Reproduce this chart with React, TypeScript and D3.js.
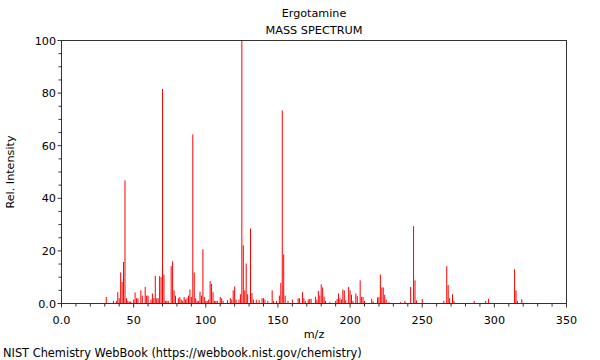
import React from "react";
import * as d3 from "d3";

const title = "Ergotamine";
const subtitle = "MASS SPECTRUM";
const xLabel = "m/z";
const yLabel = "Rel. Intensity";
const footer = "NIST Chemistry WebBook (https://webbook.nist.gov/chemistry)";

const mz = [
  31, 36, 38, 39, 40, 41, 42, 43, 44, 45, 46, 47, 48, 50, 51, 52, 53, 55, 56, 58,
  59, 60, 62, 63, 64, 65, 66, 67, 68, 69, 70, 71, 72, 73, 74, 76, 77, 78, 79, 81,
  82, 83, 84, 85, 86, 87, 88, 89, 90, 91, 92, 93, 94, 95, 96, 97, 98, 99, 100, 101,
  102, 103, 104, 105, 106, 107, 108, 110, 111, 112, 115, 117, 118, 119, 120, 121, 123, 124, 125, 126,
  127, 128, 129, 131, 132, 133, 135, 137, 139, 140, 141, 143, 146, 147, 149, 151, 152, 153, 154, 155,
  157, 160, 164, 165, 167, 168, 169, 171, 172, 173, 176, 177, 178, 179, 180, 181, 182, 183, 186, 190,
  191, 192, 193, 194, 195, 196, 197, 199, 200, 201, 202, 204, 205, 207, 208, 209, 210, 215, 216, 219,
  220, 221, 222, 223, 224, 225, 227, 235, 238, 242, 244, 245, 246, 250, 265, 267, 268, 269, 271, 272,
  286, 294, 296, 314, 315, 316, 319,
];

const intensity = [
  2.5, 1, 1, 4.3, 2, 11.8, 8.2, 15.8, 46.8, 2, 1, 0.7, 0.8, 1.5, 4.2, 2, 2, 5, 3, 6.3,
  3, 3, 1.5, 3.8, 2, 10.5, 2, 2, 10.4, 10, 81.6, 11, 1, 1, 1, 14.2, 16, 5, 3, 2,
  2.5, 1.5, 1, 2.5, 1.5, 2, 3, 5.3, 2.5, 64.3, 11.8, 2, 1, 1, 4.5, 3, 20.6, 2.5, 1, 1,
  1.5, 8.5, 7.5, 4.3, 1, 1, 1, 2.5, 2, 1, 1.3, 2, 1.5, 5, 6.5, 1.5, 1.5, 3.5, 100, 22.1,
  5, 15.2, 3.5, 28.5, 4, 1.5, 1.5, 1.3, 2, 2, 1.5, 1, 5, 1, 1, 3, 7.8, 73.4, 18.7, 3,
  1, 1.5, 2, 2, 4.3, 2, 1, 1.5, 1.7, 1.8, 2.6, 1.4, 4.8, 3, 7.3, 6.1, 2.6, 1, 0.5, 1,
  1.7, 3.8, 2, 1.5, 5.3, 5, 1.2, 6.3, 5, 3.3, 1, 3.8, 2.8, 8.8, 2.5, 2.5, 1, 1.8, 0.8, 2.3,
  2.5, 11, 6.1, 6.1, 3.3, 1.5, 0.5, 0.5, 1, 6.3, 29.4, 8.8, 1.2, 1.7, 1, 14.2, 7, 2, 3.5, 1,
  1, 1, 1.8, 13, 5, 1, 1.6,
];

const xTicksMajor = [0, 50, 100, 150, 200, 250, 300, 350];
const xTickLabels = ["0.0", "50", "100", "150", "200", "250", "300", "350"];
const yTicksMajor = [0, 20, 40, 60, 80, 100];
const yTickLabels = ["0.0", "20", "40", "60", "80", "100"];

const W = 600;
const H = 360;
const L = 61.5;
const R = 566.5;
const T = 40.5;
const B = 303.5;
const font = "DejaVu Sans, sans-serif";

export default function App() {
  const x = d3.scaleLinear().domain([0, 350]).range([L, R]);
  const y = d3.scaleLinear().domain([0, 100]).range([B, T]);
  const xMinor = d3.range(0, 351, 10);
  const yMinor = d3.range(0, 101, 5);
  const peaks = mz.map((m, i) => ({ m, v: intensity[i] }));

  return (
    <svg
      width={W}
      height={H}
      style={{ position: "absolute", left: 0, top: 0, background: "#fff" }}
      fontFamily={font}
    >
      <rect x={0} y={0} width={W} height={H} fill="#fff" />
      <text x={314} y={17} fontSize={11.2} textAnchor="middle" fill="#000">
        {title}
      </text>
      <text x={314} y={34} fontSize={11.3} textAnchor="middle" fill="#000">
        {subtitle}
      </text>

      {peaks.map((p, i) => (
        <line
          key={i}
          x1={x(p.m)}
          x2={x(p.m)}
          y1={y(0)}
          y2={y(p.v)}
          stroke="#ff0000"
          strokeWidth={1}
        />
      ))}

      <rect x={L} y={T} width={R - L} height={B - T} fill="none" stroke="#333" strokeWidth={1} />

      {xMinor.map((t) => (
        <line
          key={"xm" + t}
          x1={x(t)}
          x2={x(t)}
          y1={B}
          y2={B + (t % 50 === 0 ? 4 : 3)}
          stroke="#333"
        />
      ))}
      {xTicksMajor.map((t, i) => (
        <text key={"xl" + t} x={x(t)} y={324} fontSize={11.2} textAnchor="middle" fill="#000">
          {xTickLabels[i]}
        </text>
      ))}

      {yMinor.map((t) => (
        <line
          key={"ym" + t}
          x1={L - (t % 20 === 0 ? 4 : 3)}
          x2={L}
          y1={y(t)}
          y2={y(t)}
          stroke="#333"
        />
      ))}
      {yTicksMajor.map((t, i) => (
        <text key={"yl" + t} x={56} y={y(t) + 4} fontSize={11.2} textAnchor="end" fill="#000">
          {yTickLabels[i]}
        </text>
      ))}

      <text x={314} y={338} fontSize={11.2} textAnchor="middle" fill="#000">
        {xLabel}
      </text>
      <text
        transform={`translate(14, ${(T + B) / 2}) rotate(-90)`}
        fontSize={11.2}
        textAnchor="middle"
        fill="#000"
      >
        {yLabel}
      </text>
      <text x={3} y={357} fontSize={11.4} fill="#000">
        {footer}
      </text>
    </svg>
  );
}
